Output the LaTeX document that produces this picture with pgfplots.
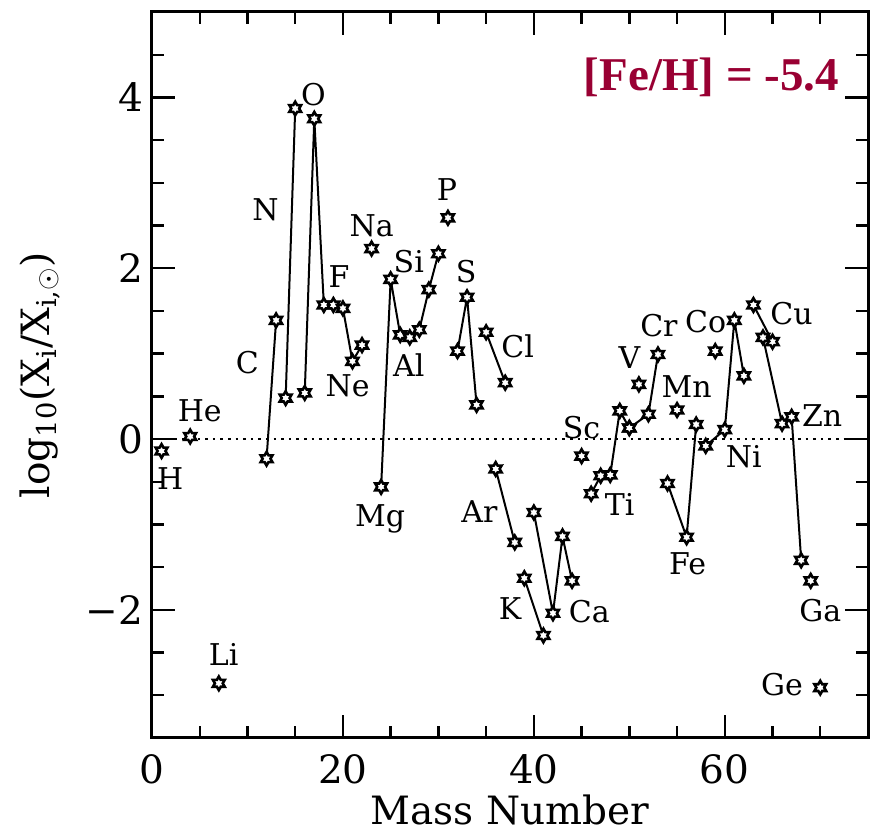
\documentclass[border=0pt]{standalone}
\usepackage{pgfplots}
\pgfplotsset{compat=1.18}
\usepackage{fontspec}
\setmainfont{DejaVu Serif}
\newfontfamily\titlefont{Liberation Serif}
\definecolor{fecol}{HTML}{990033}

\pgfdeclareplotmark{hexstar}{%
  \pgfpathmoveto{\pgfpointpolar{90}{\pgfplotmarksize}}%
  \pgfpathlineto{\pgfpointpolar{120}{0.577\pgfplotmarksize}}%
  \pgfpathlineto{\pgfpointpolar{150}{\pgfplotmarksize}}%
  \pgfpathlineto{\pgfpointpolar{180}{0.577\pgfplotmarksize}}%
  \pgfpathlineto{\pgfpointpolar{210}{\pgfplotmarksize}}%
  \pgfpathlineto{\pgfpointpolar{240}{0.577\pgfplotmarksize}}%
  \pgfpathlineto{\pgfpointpolar{270}{\pgfplotmarksize}}%
  \pgfpathlineto{\pgfpointpolar{300}{0.577\pgfplotmarksize}}%
  \pgfpathlineto{\pgfpointpolar{330}{\pgfplotmarksize}}%
  \pgfpathlineto{\pgfpointpolar{0}{0.577\pgfplotmarksize}}%
  \pgfpathlineto{\pgfpointpolar{30}{\pgfplotmarksize}}%
  \pgfpathlineto{\pgfpointpolar{60}{0.577\pgfplotmarksize}}%
  \pgfpathclose
  \pgfusepathqfillstroke
}

\newcommand{\elfont}{\fontsize{15}{18}\selectfont}
\newcommand{\axfont}{\fontsize{19.5}{22}\selectfont}

\begin{document}
\begin{tikzpicture}
\begin{axis}[
  scale only axis,
  width=358pt, height=363pt,
  xmin=0, xmax=75, ymin=-3.5, ymax=5,
  xtick={0,20,40,60},
  minor xtick={5,10,15,25,30,35,45,50,55,65,70},
  ytick={-2,0,2,4},
  yticklabels={−2,0,2,4},
  minor ytick={-3,-2.5,-1.5,-1,-0.5,0.5,1,1.5,2.5,3,3.5,4.5},
  tick align=inside,
  major tick length=11.5pt,
  minor tick length=6pt,
  tick style={line width=1.2pt, black},
  axis line style={line width=1.5pt},
  /pgf/number format/assume math mode=true,
  tick label style={font=\axfont},
  xticklabel style={yshift=-4.5pt},
  yticklabel style={xshift=-1pt},
  xlabel={Mass Number},
  ylabel={log\textsubscript{10}(X\textsubscript{i}/X\textsubscript{i,$\odot$})},
  label style={font=\axfont},
  xlabel style={at={([yshift=-43.5pt]axis description cs:0.5,0)}, anchor=base, inner sep=0pt},
  ylabel style={at={([xshift=-56pt]axis description cs:0,0.5)}, anchor=center},
  clip=false,
  cycle list={{black, solid, mark=hexstar}},
  every axis plot/.append style={black, solid, line width=1pt, mark=hexstar, mark size=3.4pt,
    mark options={solid, fill=white, line width=1.3pt}},
]
\addplot[black, dash pattern=on 1.3pt off 2.5pt, line width=1.2pt, mark=none] coordinates {(0,0) (75,0)};
% H, He, Li
\addplot[black, only marks] coordinates {(1,-0.14)};
\addplot[black, only marks] coordinates {(4,0.03)};
\addplot[black, only marks] coordinates {(7,-2.86)};
% C
\addplot[black] coordinates {(12,-0.23) (13,1.39)};
% N
\addplot[black] coordinates {(14,0.48) (15,3.87)};
% O
\addplot[black] coordinates {(16,0.54) (17,3.75) (18,1.57)};
% F
\addplot[black, only marks] coordinates {(19,1.57)};
% Ne
\addplot[black] coordinates {(20,1.53) (21,0.91) (22,1.10)};
% Na
\addplot[black, only marks] coordinates {(23,2.23)};
% Mg
\addplot[black] coordinates {(24,-0.56) (25,1.87) (26,1.22)};
% Al
\addplot[black, only marks] coordinates {(27,1.19)};
% Si
\addplot[black] coordinates {(28,1.28) (29,1.75) (30,2.17)};
% P
\addplot[black, only marks] coordinates {(31,2.59)};
% S
\addplot[black] coordinates {(32,1.03) (33,1.66) (34,0.40)};
% Cl
\addplot[black] coordinates {(35,1.25) (37,0.66)};
% Ar
\addplot[black] coordinates {(36,-0.35) (38,-1.21)};
% K
\addplot[black] coordinates {(39,-1.63) (41,-2.30)};
% Ca
\addplot[black] coordinates {(40,-0.86) (42,-2.04) (43,-1.14) (44,-1.66)};
% Sc
\addplot[black, only marks] coordinates {(45,-0.20)};
% Ti
\addplot[black] coordinates {(46,-0.64) (47,-0.43) (48,-0.42) (49,0.33) (50,0.13)};
% V
\addplot[black, only marks] coordinates {(51,0.64)};
% Cr
\addplot[black] coordinates {(50,0.13) (52,0.29) (53,0.99)};
% Mn
\addplot[black, only marks] coordinates {(55,0.34)};
% Fe
\addplot[black] coordinates {(54,-0.52) (56,-1.15) (57,0.17)};
% Co
\addplot[black, only marks] coordinates {(59,1.03)};
% Ni
\addplot[black] coordinates {(58,-0.08) (60,0.11) (61,1.39) (62,0.74)};
% Cu
\addplot[black] coordinates {(63,1.57) (65,1.14)};
% Zn
\addplot[black] coordinates {(64,1.19) (66,0.18) (67,0.26) (68,-1.42)};
% Ga
\addplot[black, only marks] coordinates {(69,-1.66)};
% Ge
\addplot[black, only marks] coordinates {(70,-2.91)};

\begin{scope}[every node/.style={font=\elfont, inner sep=0pt}]
\node at (axis cs:1.9,-0.46) {H};
\node at (axis cs:5.0,0.33) {He};
\node at (axis cs:7.5,-2.52) {Li};
\node at (axis cs:10.0,0.90) {C};
\node at (axis cs:11.9,2.68) {N};
\node at (axis cs:16.9,4.03) {O};
\node at (axis cs:19.6,1.90) {F};
\node at (axis cs:20.5,0.62) {Ne};
\node at (axis cs:23.0,2.50) {Na};
\node at (axis cs:23.9,-0.94) {Mg};
\node at (axis cs:26.9,2.08) {Si};
\node at (axis cs:26.9,0.87) {Al};
\node at (axis cs:30.9,2.92) {P};
\node at (axis cs:32.9,1.96) {S};
\node at (axis cs:38.3,1.08) {Cl};
\node at (axis cs:34.3,-0.85) {Ar};
\node at (axis cs:37.5,-1.98) {K};
\node at (axis cs:45.8,-2.02) {Ca};
\node at (axis cs:45.0,0.13) {Sc};
\node at (axis cs:49.0,-0.77) {Ti};
\node at (axis cs:50.0,0.95) {V};
\node at (axis cs:53.1,1.33) {Cr};
\node at (axis cs:56.0,0.62) {Mn};
\node at (axis cs:56.1,-1.46) {Fe};
\node at (axis cs:58.0,1.38) {Co};
\node at (axis cs:62.0,-0.21) {Ni};
\node at (axis cs:67.0,1.47) {Cu};
\node at (axis cs:70.2,0.28) {Zn};
\node at (axis cs:70.0,-2.01) {Ga};
\node at (axis cs:66.0,-2.87) {Ge};
\end{scope}
\node[font=\titlefont\bfseries\fontsize{23.5}{26}\selectfont, text=fecol, inner sep=0pt]
  at (axis cs:58.6,4.24) {[Fe/H] = -5.4};
\end{axis}
\pgfresetboundingbox
\useasboundingbox ([shift={(-76pt,-47pt)}]current axis.south west) rectangle ([shift={(1pt,6pt)}]current axis.north east);
\end{tikzpicture}
\end{document}
